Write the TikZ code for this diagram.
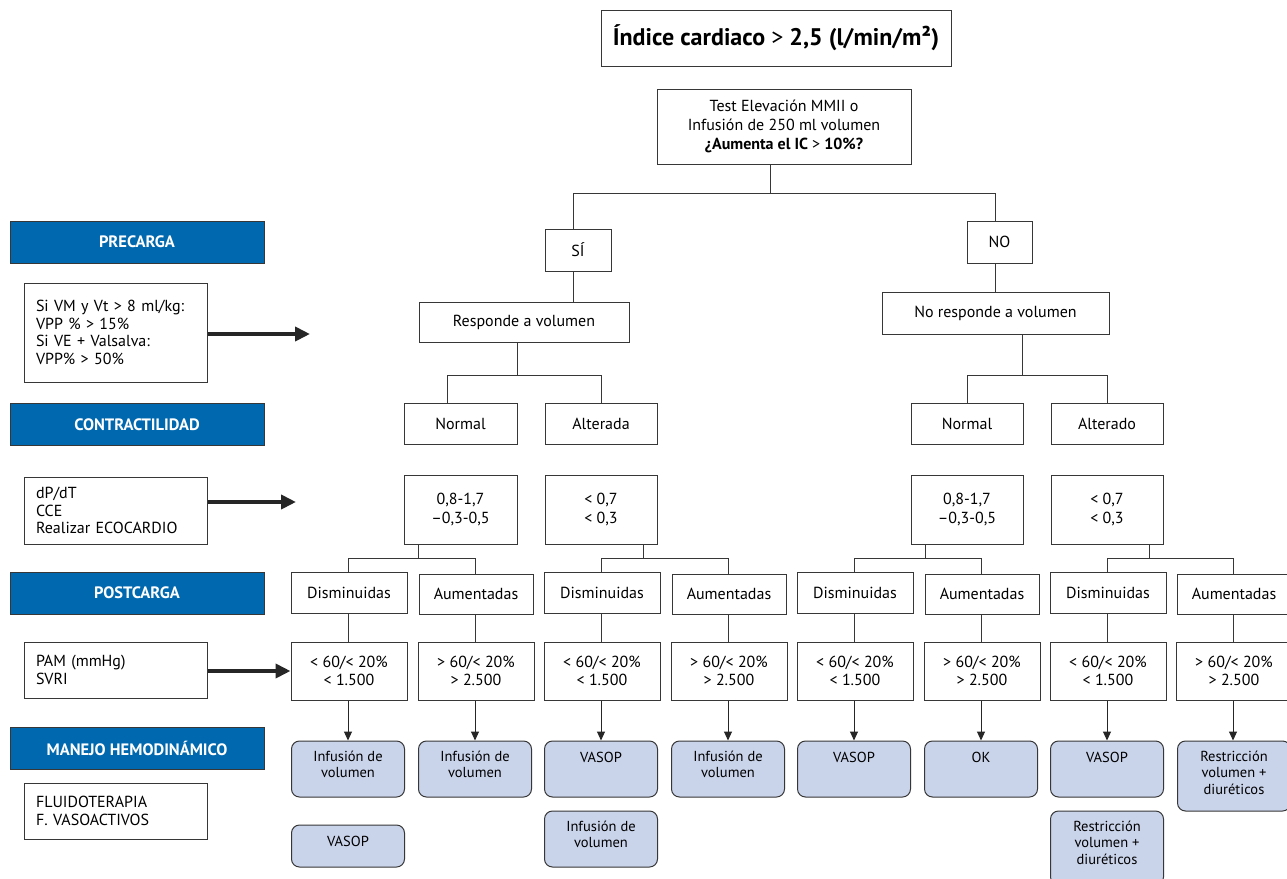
\documentclass[tikz,border=0pt]{standalone}
\usepackage{fontspec}
\setmainfont{PT Sans}
\usetikzlibrary{arrows.meta}
\definecolor{barblue}{RGB}{0,104,174}
\definecolor{resfill}{RGB}{201,211,234}
\definecolor{edge}{RGB}{55,55,55}
\begin{document}
\begin{tikzpicture}[x=1pt,y=-1pt,
  every node/.style={font=\fontsize{16}{18.5}\selectfont, inner sep=0pt},
  box/.style={draw=edge, line width=1pt, fill=white, align=center},
  bar/.style={draw=edge, line width=0.8pt, fill=barblue, text=white,
    font=\fontsize{16.5}{18}\selectfont\bfseries, minimum width=254, minimum height=42},
  lbox/.style={draw=edge, line width=1pt, align=left, text width=159, inner xsep=12, minimum height=#1,
    font=\fontsize{16}{17.5}\selectfont},
  resbox/.style={draw=edge, line width=1pt, fill=resfill, rounded corners=8pt, minimum width=113, minimum height=#1},
  restext/.style={font=\fontsize{14.5}{16.5}\selectfont, align=center, anchor=north},
  conn/.style={draw=edge, line width=1pt},
  sarrow/.style={draw=black!85, line width=1pt, -{Triangle[length=9pt,width=8pt]}},
  bigarrow/.style={draw=black!85, line width=4pt, -{Triangle[length=15pt,width=14pt]}}
]
\useasboundingbox (0,0) rectangle (1287,878);
\fill[white] (0,0) rectangle (1287,878);

% top
\node[box, minimum width=350, minimum height=56, font=\fontsize{24}{28}\selectfont\bfseries] (title) at (776,38)
  {Índice cardiaco \textmd{>} 2,5 (l/min/m²)};
\node[box, minimum width=254, minimum height=75, font=\fontsize{16}{19}\selectfont] (test) at (784,126.5)
  {Test Elevación MMII o\\Infusión de 250 ml volumen\\\textbf{¿Aumenta el IC \textmd{>} 10\%?}};

\node[box, minimum width=66, minimum height=42] (si) at (578,250) {SÍ};
\node[box, minimum width=65, minimum height=42] (no) at (999.5,242) {NO};
\node[box, minimum width=210, minimum height=40] (resp) at (524,322) {Responde a volumen};
\node[box, minimum width=227, minimum height=42] (nresp) at (995.5,313) {No responde a volumen};

\node[box, minimum width=113, minimum height=41] (nl) at (460.5,423.5) {Normal};
\node[box, minimum width=112, minimum height=41] (al) at (601,423.5) {Alterada};
\node[box, minimum width=112, minimum height=41] (nr) at (967,423.5) {Normal};
\node[box, minimum width=112, minimum height=41] (ar) at (1107,423.5) {Alterado};

\node[box, minimum width=113, minimum height=69] (vnl) at (460.5,509.5) {0,8-1,7\\–0,3-0,5};
\node[box, minimum width=112, minimum height=69] (val) at (601,509.5) {< 0,7\\< 0,3};
\node[box, minimum width=112, minimum height=69] (vnr) at (967,509.5) {0,8-1,7\\–0,3-0,5};
\node[box, minimum width=112, minimum height=69] (var) at (1107,509.5) {< 0,7\\< 0,3};

% postcarga columns
\foreach \i/\x in {1/348,3/601,5/854,7/1107}{
  \node[box, minimum width=116, minimum height=41] (p\i) at (\x+1,592.5) {Disminuidas};
  \node[box, minimum width=116, minimum height=58] (q\i) at (\x+1,671) {< 60/< 20\%\\< 1.500};
}
\foreach \i/\x in {2/475,4/728,6/981,8/1233}{
  \node[box, minimum width=114, minimum height=40] (p\i) at (\x+1,594) {Aumentadas};
  \node[box, minimum width=116, minimum height=58] (q\i) at (\x+1,671) {> 60/< 20\%\\> 2.500};
}

% results
\node[resbox=56] (r1) at (348,769) {};
\node[resbox=56] (r2) at (475,769) {};
\node[resbox=56] (r3) at (601,769) {};
\node[resbox=56] (r4) at (728,769) {};
\node[resbox=56] (r5) at (854,769) {};
\node[resbox=56] (r6) at (981,769) {};
\node[resbox=56] (r7) at (1107,769) {};
\node[resbox=70] (r8) at (1234,776) {};
\node[resbox=42] (s1) at (348,846) {};
\node[resbox=56] (s3) at (601,839) {};
\node[resbox=74] (s7) at (1107,848) {};

\node[restext] (t1) at ([yshift=-10pt]r1.north) {Infusión de\\volumen};
\node[restext] (t2) at ([yshift=-10pt]r2.north) {Infusión de\\volumen};
\node[restext] (t3) at ([yshift=-11pt]r3.north) {VASOP};
\node[restext] (t4) at ([yshift=-10pt]r4.north) {Infusión de\\volumen};
\node[restext] (t5) at ([yshift=-11pt]r5.north) {VASOP};
\node[restext] (t6) at ([yshift=-11pt]r6.north) {OK};
\node[restext] (t7) at ([yshift=-11pt]r7.north) {VASOP};
\node[restext] (t8) at ([yshift=-10pt]r8.north) {Restricción\\volumen +\\diuréticos};
\node[restext] (u1) at ([yshift=-11pt]s1.north) {VASOP};
\node[restext] (u3) at ([yshift=-10pt]s3.north) {Infusión de\\volumen};
\node[restext] (u7) at ([yshift=-10pt]s7.north) {Restricción\\volumen +\\diuréticos};

% left column
\node[bar] (b1) at (137,242) {PRECARGA};
\node[bar] (b2) at (137,424.5) {CONTRACTILIDAD};
\node[bar] (b3) at (137,593) {POSTCARGA};
\node[bar] (b4) at (137,748) {MANEJO HEMODINÁMICO};

\node[lbox=99] (l1) at (115.5,332.5) {Si VM y Vt > 8 ml/kg:\\VPP \% > 15\%\\Si VE + Valsalva:\\VPP\% > 50\%};
\node[lbox=67] (l2) at (115.5,510.5) {dP/dT\\CCE\\Realizar ECOCARDIO};
\node[lbox=56] (l3) at (115.5,670) {PAM (mmHg)\\SVRI};
\node[lbox=56] (l4) at (115.5,811) {FLUIDOTERAPIA\\F. VASOACTIVOS};

\coordinate (e1) at (310,334);
\coordinate (e2) at (296,502);
\draw[bigarrow] (l1.east |- e1) -- (e1);
\draw[bigarrow] (l2.east |- e2) -- (e2);
\draw[bigarrow] (l3.east |- q1.west) -- (q1.west);

% connectors top tree
\coordinate (j0) at (770,193);
\coordinate (jSi) at (573,193);
\coordinate (jNo) at (995,193);
\draw[conn] (j0 |- test.south) -- (j0);
\draw[conn] (jSi |- si.north) -- (jSi) -- (jNo) -- (jNo |- no.north);
\draw[conn] (jSi |- si.south) -- (jSi |- resp.north);
\draw[conn] (jNo |- no.south) -- (jNo |- nresp.north);

\coordinate (jR) at (517,375);
\coordinate (aL) at (447,375);
\coordinate (aR) at (601,375);
\draw[conn] (jR |- resp.south) -- (jR);
\draw[conn] (aL |- nl.north) -- (aL) -- (aR) -- (aR |- al.north);

\coordinate (jR2) at (1022,375);
\coordinate (bL) at (967,375);
\coordinate (bR) at (1107,375);
\draw[conn] (jR2 |- nresp.south) -- (jR2);
\draw[conn] (bL |- nr.north) -- (bL) -- (bR) -- (bR |- ar.north);

% values -> postcarga
\coordinate (k1) at (418,558);
\coordinate (k2) at (643,558);
\coordinate (k3) at (925,558);
\coordinate (k4) at (1149,558);
\draw[conn] (k1 |- vnl.south) -- (k1);
\draw[conn] (k2 |- val.south) -- (k2);
\draw[conn] (k3 |- vnr.south) -- (k3);
\draw[conn] (k4 |- var.south) -- (k4);
\coordinate (c1) at (348,558); \coordinate (c2) at (475,558);
\coordinate (c3) at (601,558); \coordinate (c4) at (728,558);
\coordinate (c5) at (854,558); \coordinate (c6) at (981,558);
\coordinate (c7) at (1107,558); \coordinate (c8) at (1233,558);
\draw[conn] (c1 |- p1.north) -- (c1) -- (c2) -- (c2 |- p2.north);
\draw[conn] (c3 |- p3.north) -- (c3) -- (c4) -- (c4 |- p4.north);
\draw[conn] (c5 |- p5.north) -- (c5) -- (c6) -- (c6 |- p6.north);
\draw[conn] (c7 |- p7.north) -- (c7) -- (c8) -- (c8 |- p8.north);

% postcarga -> values -> results
\foreach \i in {1,...,8}{
  \draw[conn] (c\i |- p\i.south) -- (c\i |- q\i.north);
  \draw[sarrow] (c\i |- q\i.south) -- (c\i |- r\i.north);
}
\end{tikzpicture}
\end{document}
